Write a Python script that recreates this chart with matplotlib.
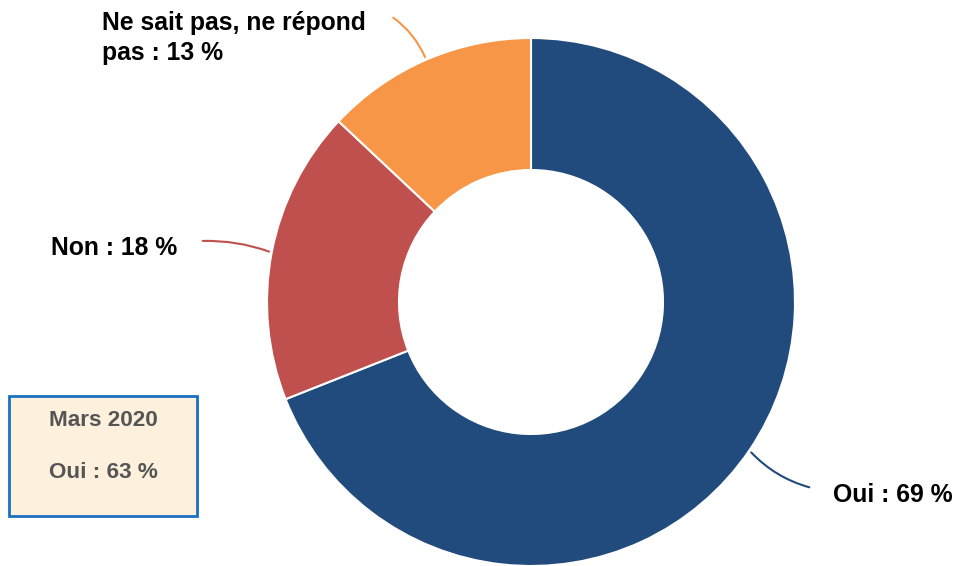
import numpy as np
import matplotlib
matplotlib.use("Agg")
import matplotlib.pyplot as plt
from matplotlib.patches import Rectangle

categories = ["Oui", "Non", "Ne sait pas, ne répond\npas"]
values = [69, 18, 13]
colors = ["#214b7d", "#c0504d", "#f79646"]
box_title = "Mars 2020"
box_text = "Oui : 63 %"

plt.rcParams['font.family'] = ['Liberation Sans', 'DejaVu Sans']

W, H = 958, 566
fig = plt.figure(figsize=(W / 100, H / 100), dpi=100)
ax = fig.add_axes([0, 0, 1, 1])

cx, cy, R = 531, H - 302, 264
wedges, _ = ax.pie(values, colors=colors, startangle=90, counterclock=False,
                   center=(cx, cy), radius=R, frame=True,
                   wedgeprops=dict(width=R * 0.5, edgecolor='white', linewidth=1.5))
ax.set_xlim(0, W)
ax.set_ylim(0, H)
ax.set_aspect('equal')
ax.axis('off')

# label layout: (line end, text pos, ha, rad)
layout = [
    ((812, H - 488), (833, H - 495), 'left', 0.15),
    ((200, H - 241), (177, H - 248), 'right', 0.1),
    ((391, H - 16), (102, H - 38), 'left', 0.15),
]
for w, cat, v, col, (end, tpos, ha, rad) in zip(wedges, categories, values, colors, layout):
    ang = np.deg2rad((w.theta1 + w.theta2) / 2)
    sx, sy = cx + R * np.cos(ang), cy + R * np.sin(ang)
    ax.annotate('', xy=end, xytext=(sx, sy),
                arrowprops=dict(arrowstyle='-', color=col, lw=1.5,
                                connectionstyle=f'arc3,rad={rad}'))
    ax.text(tpos[0], tpos[1], f"{cat} : {v} %", ha=ha, va='center',
            fontsize=17.8, fontweight='bold', color='black', linespacing=1.3)

ax.add_patch(Rectangle((9, H - 516), 188, 120, facecolor='#fdf0dc',
                       edgecolor='#1b70c0', lw=2))
ax.text(103, H - 421, box_title, ha='center', va='center', fontsize=16.2,
        fontweight='bold', color='#555555')
ax.text(103, H - 473, box_text, ha='center', va='center', fontsize=16.2,
        fontweight='bold', color='#555555')

fig.savefig('out.png', dpi=100)
